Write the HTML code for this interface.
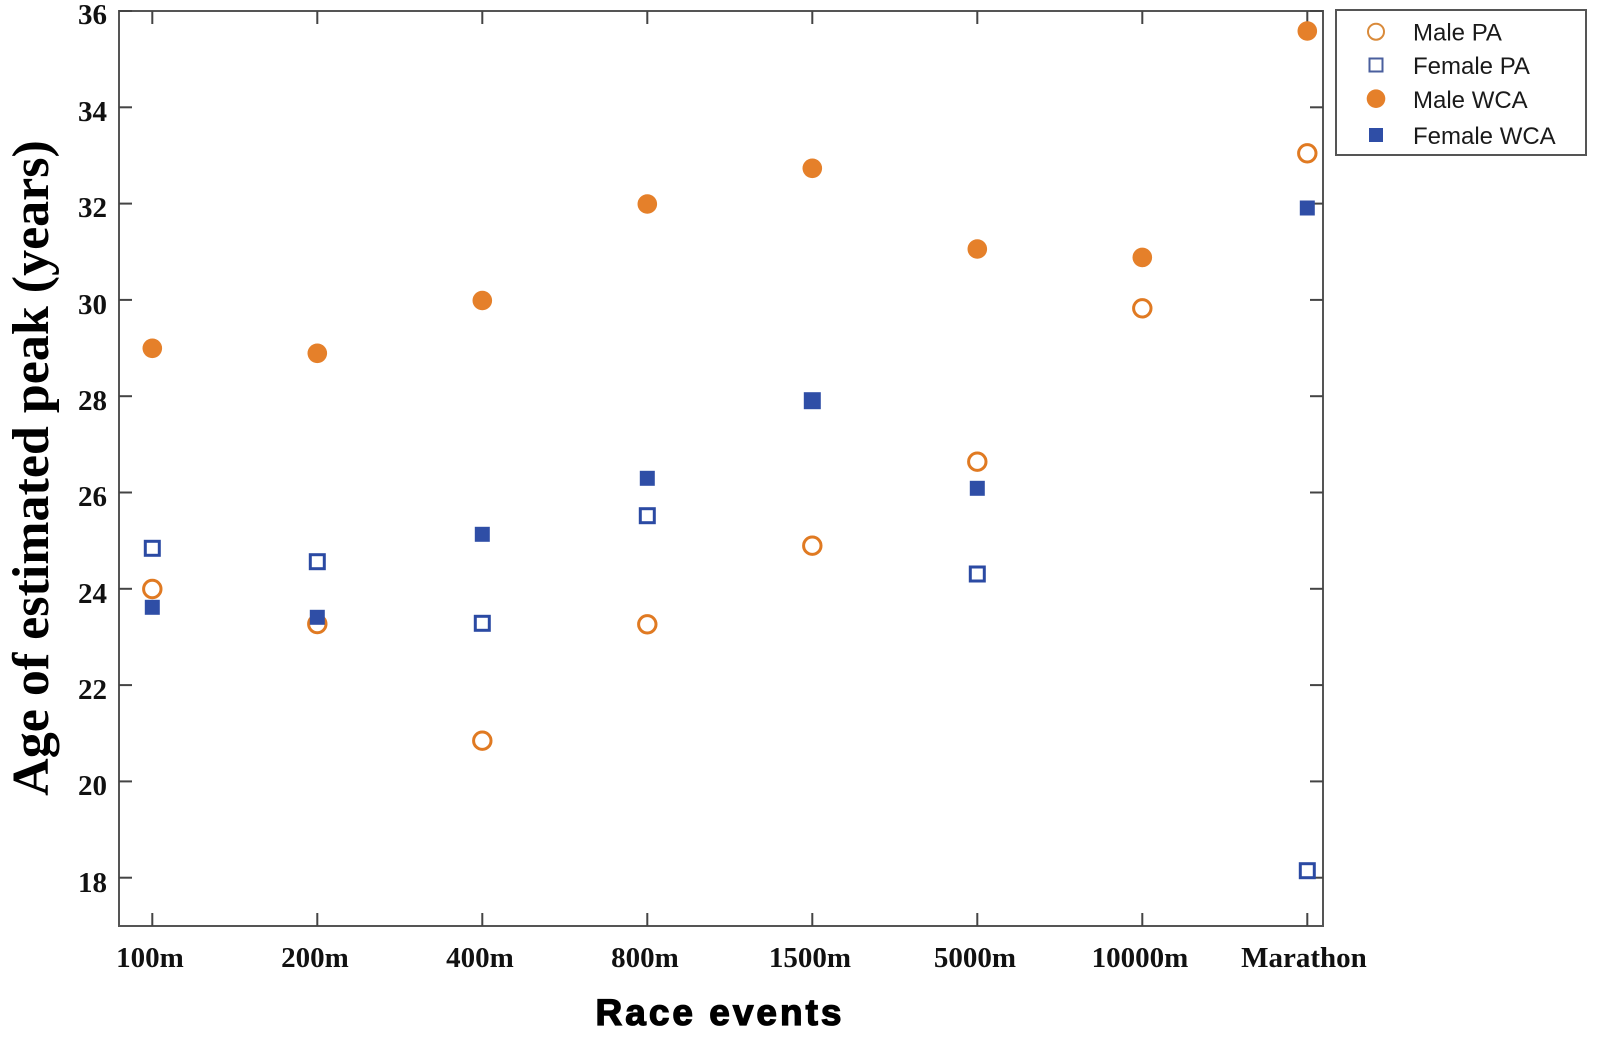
<!DOCTYPE html>
<html>
<head>
<meta charset="utf-8">
<style>
  html, body { margin: 0; padding: 0; background: #ffffff; }
  svg { display: block; }
</style>
</head>
<body>
<svg width="1600" height="1049" viewBox="0 0 1600 1049" xmlns="http://www.w3.org/2000/svg">
  <rect x="0" y="0" width="1600" height="1049" fill="#ffffff"/>

  <!-- Axes frame -->
  <rect x="119" y="11" width="1204" height="915" fill="none" stroke="#555555" stroke-width="2"/>

  <!-- Y ticks left & right -->
  <g stroke="#444444" stroke-width="2">
    <line x1="119" y1="11" x2="132" y2="11"/>
    <line x1="119" y1="107.3" x2="132" y2="107.3"/>
    <line x1="119" y1="203.6" x2="132" y2="203.6"/>
    <line x1="119" y1="299.9" x2="132" y2="299.9"/>
    <line x1="119" y1="396.2" x2="132" y2="396.2"/>
    <line x1="119" y1="492.5" x2="132" y2="492.5"/>
    <line x1="119" y1="588.8" x2="132" y2="588.8"/>
    <line x1="119" y1="685.1" x2="132" y2="685.1"/>
    <line x1="119" y1="781.4" x2="132" y2="781.4"/>
    <line x1="119" y1="877.7" x2="132" y2="877.7"/>

    <line x1="1323" y1="11" x2="1310" y2="11"/>
    <line x1="1323" y1="107.3" x2="1310" y2="107.3"/>
    <line x1="1323" y1="203.6" x2="1310" y2="203.6"/>
    <line x1="1323" y1="299.9" x2="1310" y2="299.9"/>
    <line x1="1323" y1="396.2" x2="1310" y2="396.2"/>
    <line x1="1323" y1="492.5" x2="1310" y2="492.5"/>
    <line x1="1323" y1="588.8" x2="1310" y2="588.8"/>
    <line x1="1323" y1="685.1" x2="1310" y2="685.1"/>
    <line x1="1323" y1="781.4" x2="1310" y2="781.4"/>
    <line x1="1323" y1="877.7" x2="1310" y2="877.7"/>
  </g>

  <!-- X ticks bottom & top -->
  <g stroke="#444444" stroke-width="2">
    <line x1="152.3" y1="926" x2="152.3" y2="913"/>
    <line x1="317.3" y1="926" x2="317.3" y2="913"/>
    <line x1="482.3" y1="926" x2="482.3" y2="913"/>
    <line x1="647.3" y1="926" x2="647.3" y2="913"/>
    <line x1="812.3" y1="926" x2="812.3" y2="913"/>
    <line x1="977.3" y1="926" x2="977.3" y2="913"/>
    <line x1="1142.3" y1="926" x2="1142.3" y2="913"/>
    <line x1="1307.3" y1="926" x2="1307.3" y2="913"/>

    <line x1="152.3" y1="11" x2="152.3" y2="24"/>
    <line x1="317.3" y1="11" x2="317.3" y2="24"/>
    <line x1="482.3" y1="11" x2="482.3" y2="24"/>
    <line x1="647.3" y1="11" x2="647.3" y2="24"/>
    <line x1="812.3" y1="11" x2="812.3" y2="24"/>
    <line x1="977.3" y1="11" x2="977.3" y2="24"/>
    <line x1="1142.3" y1="11" x2="1142.3" y2="24"/>
    <line x1="1307.3" y1="11" x2="1307.3" y2="24"/>
  </g>

  <!-- Y tick labels -->
  <g font-family="'Liberation Serif', 'Times New Roman', serif" font-weight="bold" font-size="29" fill="#111111" text-anchor="end">
    <text x="107" y="24">36</text>
    <text x="107" y="121">34</text>
    <text x="107" y="217">32</text>
    <text x="107" y="314">30</text>
    <text x="107" y="410">28</text>
    <text x="107" y="506">26</text>
    <text x="107" y="603">24</text>
    <text x="107" y="699">22</text>
    <text x="107" y="795">20</text>
    <text x="107" y="892">18</text>
  </g>

  <!-- X tick labels -->
  <g font-family="'Liberation Serif', 'Times New Roman', serif" font-weight="bold" font-size="29" fill="#111111" text-anchor="middle">
    <text x="150" y="967">100m</text>
    <text x="315" y="967">200m</text>
    <text x="480" y="967">400m</text>
    <text x="645" y="967">800m</text>
    <text x="810" y="967">1500m</text>
    <text x="975" y="967">5000m</text>
    <text x="1140" y="967">10000m</text>
    <text x="1304" y="967">Marathon</text>
  </g>

  <!-- Axis titles -->
  <text x="48" y="468" transform="rotate(-90 48 468)" text-anchor="middle"
        font-family="'Liberation Serif', 'Times New Roman', serif" font-weight="bold" font-size="52" fill="#000000">Age of estimated peak (years)</text>
  <text x="720" y="1025" text-anchor="middle"
        font-family="'Liberation Sans', Arial, sans-serif" font-weight="bold" font-size="37" letter-spacing="3" fill="#000000" stroke="#000000" stroke-width="1.3">Race events</text>

  <!-- Male WCA (filled orange circles) -->
  <g fill="#E5802A">
    <circle cx="152.3" cy="348.3" r="9.8"/>
    <circle cx="317.3" cy="353.3" r="9.8"/>
    <circle cx="482.3" cy="300.5" r="9.8"/>
    <circle cx="647.3" cy="204" r="9.8"/>
    <circle cx="812.3" cy="168.3" r="9.8"/>
    <circle cx="977.3" cy="249" r="9.8"/>
    <circle cx="1142.3" cy="257.4" r="9.8"/>
    <circle cx="1307.3" cy="31" r="9.8"/>
  </g>

  <!-- Male PA (hollow orange circles) -->
  <g fill="#ffffff" stroke="#E07A22" stroke-width="3">
    <circle cx="152.3" cy="589" r="8.7"/>
    <circle cx="317.3" cy="624" r="8.7"/>
    <circle cx="482.3" cy="740.7" r="8.7"/>
    <circle cx="647.3" cy="624.3" r="8.7"/>
    <circle cx="812.3" cy="545.7" r="8.7"/>
    <circle cx="977.3" cy="461.7" r="8.7"/>
    <circle cx="1142.3" cy="308.3" r="8.7"/>
    <circle cx="1307.3" cy="153.3" r="8.7"/>
  </g>

  <!-- Female PA (hollow blue squares) -->
  <g fill="#ffffff" stroke="#2B4AA3" stroke-width="3">
    <rect x="145.3" y="541.3" width="14" height="14"/>
    <rect x="310.3" y="554.7" width="14" height="14"/>
    <rect x="475.3" y="616.3" width="14" height="14"/>
    <rect x="640.3" y="508.7" width="14" height="14"/>
    <rect x="970.3" y="567" width="14" height="14"/>
    <rect x="1300.3" y="863.7" width="14" height="14"/>
  </g>

  <!-- Female WCA (filled blue squares) -->
  <g fill="#2F4EA6">
    <rect x="144.8" y="599.8" width="15" height="15"/>
    <rect x="309.8" y="609.8" width="15" height="15"/>
    <rect x="474.8" y="526.8" width="15" height="15"/>
    <rect x="639.8" y="470.8" width="15" height="15"/>
    <rect x="803.8" y="392.2" width="17" height="17"/>
    <rect x="969.8" y="480.8" width="15" height="15"/>
    <rect x="1299.8" y="200.5" width="15" height="15"/>
  </g>

  <!-- Legend -->
  <rect x="1336" y="10" width="250" height="145" fill="#ffffff" stroke="#555555" stroke-width="2"/>
  <circle cx="1376" cy="31.7" r="8" fill="#ffffff" stroke="#D98A3A" stroke-width="2"/>
  <rect x="1369.5" y="58.5" width="13" height="13" fill="#ffffff" stroke="#4A5F9E" stroke-width="2"/>
  <circle cx="1376" cy="98.7" r="9.3" fill="#E5802A"/>
  <rect x="1369" y="128" width="14" height="14" fill="#2F4EA6"/>
  <g font-family="'Liberation Sans', Arial, sans-serif" font-size="24" fill="#1a1a1a">
    <text x="1413" y="40.7">Male PA</text>
    <text x="1413" y="74">Female PA</text>
    <text x="1413" y="108">Male WCA</text>
    <text x="1413" y="144">Female WCA</text>
  </g>
</svg>
</body>
</html>
